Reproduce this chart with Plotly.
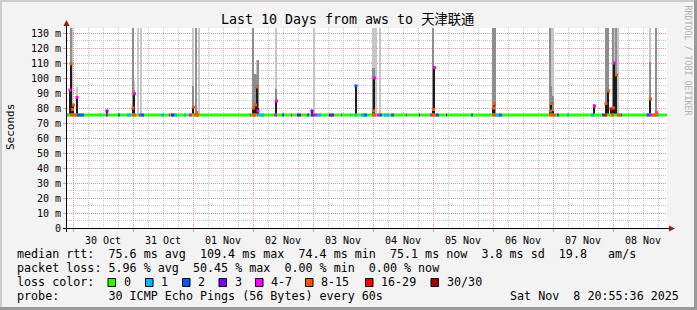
import plotly.graph_objects as go
import pandas as pd
import numpy as np

# ---------------- data ----------------
period_start = pd.Timestamp("2025-10-29 21:36")
period_end = pd.Timestamp("2025-11-08 21:36")
base_rtt = 75.3  # typical median rtt (ms)

# baseline median-line loss segments (hours from period_start)
seg_start_h = [0.0, 1.2, 4.0, 13.2, 15.6, 16.0, 20.4, 24.0, 26.0, 28.8, 29.6, 37.6, 40.8, 41.6, 42.8,
               46.8, 48.8, 50.8, 73.2, 74.0, 76.0, 76.8, 82.8, 86.0, 89.6, 92.0, 96.0, 97.6, 98.8,
               100.0, 104.8, 109.6, 113.2, 115.2, 117.6, 118.8, 122.0, 124.0, 125.2, 126.8, 129.6,
               135.6, 140.8, 145.2, 146.0, 147.6, 151.6, 161.6, 170.0, 171.6, 172.8, 192.8, 196.0,
               200.0, 209.6, 214.0, 214.8, 217.6, 220.0, 221.6, 231.6, 232.0, 232.8, 234.0, 236.0]
seg_end_h = [0.6, 4.0, 6.8, 13.6, 16.0, 16.4, 21.2, 25.6, 27.6, 29.6, 30.8, 38.8, 41.2, 42.8, 44.0,
             47.6, 50.0, 52.8, 73.6, 75.6, 76.4, 78.8, 84.0, 86.8, 90.0, 93.6, 96.8, 98.8, 100.0,
             101.6, 106.8, 110.0, 113.6, 116.0, 118.8, 120.0, 123.6, 125.2, 126.0, 128.8, 130.8,
             136.0, 141.2, 146.0, 147.6, 148.8, 152.0, 162.4, 171.6, 172.8, 174.0, 195.6, 196.8,
             200.8, 210.8, 214.8, 216.0, 218.8, 221.6, 222.0, 232.0, 232.8, 234.0, 236.0, 236.8]
seg_loss = [1, 5, 2, 1, 3, 4, 2, 1, 5, 4, 2, 1, 4, 3, 1,
            1, 4, 5, 4, 5, 4, 1, 4, 2, 4, 3, 2, 3, 4,
            1, 3, 4, 1, 1, 1, 2, 5, 4, 2, 1, 2,
            4, 3, 4, 5, 2, 3, 2, 5, 1, 2, 5, 2,
            1, 1, 2, 6, 5, 5, 2, 1, 2, 4, 5, 1]

# smoke columns around spikes (hours from period_start, ms)
col_h = [1.2, 1.6, 2.2, 2.6, 4.0, 16.0, 26.4, 27.0, 28.6, 29.6, 50.6, 51.8, 52.8, 74.6, 75.4,
         76.0, 76.4, 83.8, 98.0, 99.0, 115.6, 122.6, 123.0, 123.8, 125.4, 146.6, 147.0, 170.6,
         171.0, 171.4, 193.4, 193.8, 194.4, 211.0, 215.6, 216.6, 217.6, 218.6, 219.0, 219.8,
         220.6, 233.4, 235.8]
col_max = [92, 140, 140, 84, 94, 79, 140, 98, 140, 140, 140, 140, 140, 140, 103,
           112, 112, 140, 78, 140, 95, 140, 140, 140, 140, 140, 107, 140,
           140, 140, 140, 140, 140, 83, 140, 140, 80, 140, 140, 140,
           140, 140, 140]
col_upper = [92, 140, 80, 83, 88, 78, 140, 92, None, None, 95, 140, None, 140, 103,
             102, 112, 92.7, 78, None, 95, 107, 106.7, None, None, 140, 107, 140,
             98.7, 140, 140, 95, 88, 83, 140, 140, 80, 140, 110, 140,
             None, 111, 140]
col_core = [92, 109.4, 79, 82, 87, 78, 80, 89.5, None, None, 80.6, 77, None, 80, 82,
            94, 80, 84.7, 78, None, 94.7, 78, 100, None, None, 78, 107, 80,
            82.7, None, 78, 83, 78, 81.3, 83, 91.5, 79.4, 80, 110, 102,
            None, 86, 77]
col_median = [92, 109.4, 79, 82, 87, 78, 80, 89.5, None, None, 80.6, 77, None, 80, 82,
              94, 78, 84.7, 78, None, 94.7, 78, 100, None, None, 79, 107, 80,
              82.7, None, 78, 83, None, 81.3, 83, 91.5, 79.4, 80, 110, 102,
              None, 86, 77]
col_loss = [4, 5, 5, 5, 4, 3, 5, 4, None, None, 5, 5, None, 5, 5,
            5, 4, 4, 3, None, 2, 5, 4, None, None, 5, 4, 5,
            5, None, 5, 5, None, 4, 5, 5, 6, 5, 4, 5,
            None, 5, 5]

loss_labels = ["0", "1", "2", "3", "4-7", "8-15", "16-29", "30/30"]
loss_colors = ["#26ff00", "#00b8ff", "#0059ff", "#7e00ff", "#ff00ff", "#ff5500", "#ff0000", "#a10000"]

y_tickvals = [0, 10, 20, 30, 40, 50, 60, 70, 80, 90, 100, 110, 120, 130]
y_ticktext = ["0"] + [f"{v} m" for v in y_tickvals[1:]]

title_text = "Last 10 Days from aws to 天津联通"
rtt_line = "median rtt:  75.6 ms avg  109.4 ms max  74.4 ms min  75.1 ms now  3.8 ms sd  19.8   am/s"
loss_line = "packet loss: 5.96 % avg  50.45 % max  0.00 % min  0.00 % now"
probe_line = "probe:       30 ICMP Echo Pings (56 Bytes) every 60s"
stamp_text = "Sat Nov  8 20:55:36 2025"

# ---------------- helpers ----------------
W, H = 697, 310
L, R, T, B = 67, 30, 28, 82
PW, PH = W - L - R, H - T - B
MONO = "DejaVu Sans Mono, Noto Sans CJK SC, monospace"


def px(x):
    return (x - L) / PW


def py(y):
    return (T + PH - y) / PH


def hours_to_ts(h):
    return period_start + pd.to_timedelta(h, unit="h")


def nz(v):
    return np.nan if v is None else v


col_t = [hours_to_ts(h) for h in col_h]
hour_ms = 3600 * 1000

fig = go.Figure()

# smoke layers
for vals, color, wid in [(col_max, "#c6c6c6", 0.55), (col_upper, "#8e8e8e", 0.55), (col_core, "#1c1c1c", 0.75)]:
    fig.add_trace(go.Bar(
        x=col_t, y=[nz(v) - base_rtt if v is not None else np.nan for v in vals], base=base_rtt,
        width=wid * hour_ms, marker=dict(color=color, line=dict(width=0)), hoverinfo="skip"))

# baseline median line (loss 0)
fig.add_trace(go.Scatter(x=[period_start, period_end], y=[base_rtt, base_rtt], mode="lines",
                         line=dict(color=loss_colors[0], width=3), hoverinfo="skip"))

# loss-coloured median segments
for cls in range(1, len(loss_colors)):
    xs, ys = [], []
    for s, e, c in zip(seg_start_h, seg_end_h, seg_loss):
        if c == cls:
            xs += [hours_to_ts(s), hours_to_ts(e), None]
            ys += [base_rtt, base_rtt, None]
    if xs:
        fig.add_trace(go.Scatter(x=xs, y=ys, mode="lines", line=dict(color=loss_colors[cls], width=3),
                                 hoverinfo="skip"))

# median markers on spikes
for cls in range(len(loss_colors)):
    xs = [t for t, m, c in zip(col_t, col_median, col_loss) if m is not None and c == cls]
    ys = [m for m, c in zip(col_median, col_loss) if m is not None and c == cls]
    if xs:
        fig.add_trace(go.Scatter(x=xs, y=ys, mode="markers",
                                 marker=dict(symbol="square", size=3, color=loss_colors[cls], line=dict(width=0)),
                                 hoverinfo="skip"))

major_grid = "#e39a9a"
minor_grid = "#c8c8c8"

fig.update_layout(
    width=W, height=H, margin=dict(l=L, r=R, t=T, b=B, pad=0),
    paper_bgcolor="#f3f3f3", plot_bgcolor="#ffffff",
    showlegend=False, barmode="overlay", bargap=0, hovermode=False,
    font=dict(family=MONO, color="#000000"),
    xaxis=dict(type="date", range=[period_start, period_end], dtick=86400000, tick0="2025-10-30",
               tickformat="%d %b", ticklabelmode="period", showgrid=True, gridcolor=major_grid,
               griddash="1px,1px", gridwidth=1, ticks="outside", ticklen=3, tickcolor=major_grid,
               tickfont=dict(size=10, family=MONO, color="#000"), zeroline=False, showline=False,
               minor=dict(dtick=6 * hour_ms, showgrid=True, gridcolor=minor_grid, griddash="1px,1px")),
    yaxis=dict(range=[0, PH / 1.5], tickvals=y_tickvals, ticktext=y_ticktext, showgrid=True,
               gridcolor=major_grid, griddash="1px,1px", gridwidth=1, ticks="outside", ticklen=3,
               tickcolor=major_grid, tickfont=dict(size=10, family=MONO, color="#000"),
               zeroline=False, showline=False,
               minor=dict(dtick=5, tick0=0, showgrid=True, gridcolor=minor_grid, griddash="1px,1px")),
)

shapes = []
# frame shading
shapes.append(dict(type="rect", xref="paper", yref="paper", x0=px(0), x1=px(W), y0=py(0), y1=py(2),
                   fillcolor="#cbcbcb", line=dict(width=0), layer="above"))
shapes.append(dict(type="rect", xref="paper", yref="paper", x0=px(0), x1=px(2), y0=py(0), y1=py(H),
                   fillcolor="#cbcbcb", line=dict(width=0), layer="above"))
shapes.append(dict(type="rect", xref="paper", yref="paper", x0=px(W - 3), x1=px(W), y0=py(0), y1=py(H),
                   fillcolor="#999999", line=dict(width=0), layer="above"))
shapes.append(dict(type="rect", xref="paper", yref="paper", x0=px(0), x1=px(W), y0=py(H - 3), y1=py(H),
                   fillcolor="#999999", line=dict(width=0), layer="above"))
# axes
shapes.append(dict(type="line", xref="paper", yref="paper", x0=px(66.5), x1=px(66.5), y0=py(232), y1=py(25),
                   line=dict(color="#000", width=1), layer="above"))
shapes.append(dict(type="line", xref="paper", yref="paper", x0=px(63), x1=px(670), y0=py(228.5), y1=py(228.5),
                   line=dict(color="#000", width=1), layer="above"))
# arrows
shapes.append(dict(type="path", xref="paper", yref="paper",
                   path=f"M {px(66.5)} {py(20)} L {px(63.5)} {py(26)} L {px(69.5)} {py(26)} Z",
                   fillcolor="#9a1a1a", line=dict(width=0), layer="above"))
shapes.append(dict(type="path", xref="paper", yref="paper",
                   path=f"M {px(675)} {py(228.5)} L {px(669)} {py(225.5)} L {px(669)} {py(231.5)} Z",
                   fillcolor="#9a1a1a", line=dict(width=0), layer="above"))

# loss colour swatches
swatch_left = [108, 145.5, 182.5, 219, 255.5, 305.5, 365.5, 431]
for xl, col in zip(swatch_left, loss_colors):
    shapes.append(dict(type="rect", xref="paper", yref="paper", x0=px(xl), x1=px(xl + 7.5),
                       y0=py(286.5), y1=py(278.5), fillcolor=col, line=dict(color="#000", width=1), layer="above"))
fig.update_layout(shapes=shapes)

ann = []
LEG = 11.7
ann.append(dict(text=title_text, x=px(347.5), y=py(20), xref="paper", yref="paper", showarrow=False,
                xanchor="center", yanchor="middle", font=dict(size=13.3, family=MONO, color="#000")))
ann.append(dict(text="Seconds", x=px(10), y=py(127), xref="paper", yref="paper", showarrow=False,
                textangle=-90, xanchor="center", yanchor="middle", font=dict(size=11, family=MONO, color="#000")))
ann.append(dict(text="RRDTOOL / TOBI OETIKER", x=px(687.5), y=py(60), xref="paper", yref="paper",
                showarrow=False, textangle=90, xanchor="center", yanchor="middle",
                font=dict(size=8.3, family=MONO, color="#b0b0b0")))
for txt, yy in [(rtt_line, 254), (loss_line, 268), ("loss color:", 282), (probe_line, 296)]:
    ann.append(dict(text=txt.replace(" ", "\u00a0"), x=px(15), y=py(yy), xref="paper", yref="paper",
                    showarrow=False, xanchor="left", yanchor="middle", font=dict(size=LEG, family=MONO, color="#000")))
for xl, lab in zip(swatch_left, loss_labels):
    ann.append(dict(text=lab, x=px(xl + 13.5), y=py(282), xref="paper", yref="paper", showarrow=False,
                    xanchor="left", yanchor="middle", font=dict(size=LEG, family=MONO, color="#000")))
ann.append(dict(text=stamp_text.replace(" ", "\u00a0"), x=px(681), y=py(296), xref="paper", yref="paper",
                showarrow=False, xanchor="right", yanchor="middle", font=dict(size=LEG, family=MONO, color="#000")))
fig.update_layout(annotations=ann)

fig.write_html("out.html")
